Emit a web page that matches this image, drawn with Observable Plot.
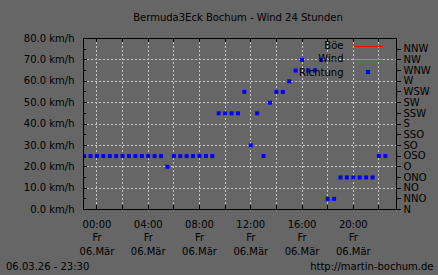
<!DOCTYPE html>
<html><head><meta charset="utf-8">
<script src="https://cdn.jsdelivr.net/npm/d3@7"></script>
<script src="https://cdn.jsdelivr.net/npm/@observablehq/plot@0.6"></script>
<style>
body{margin:0;background:#666666;}
#wrap{position:relative;width:438px;height:275px;background:#666666;font-family:"DejaVu Sans";font-size:10px;color:#000;overflow:hidden}
.t{position:absolute;white-space:nowrap;line-height:1}
#wrap svg{position:absolute;left:0;top:0}
</style></head><body><div id="wrap"></div>
<script>
const titleText = "Bermuda3Eck Bochum - Wind 24 Stunden";
const stampText = "06.03.26 - 23:30";
const urlText = "http://martin-bochum.de";
const compass = ["N","NNO","NO","ONO","O","OSO","SO","SSO","S","SSW","SW","WSW","W","WNW","NW","NNW"];
const yTicks = [0,10,20,30,40,50,60,70,80];
const yMinor = [5,15,25,35,45,55,65,75];
const xTickHours = [0,4,8,12,16,20];
const xGridHours = [0,2,4,6,8,10,12,14,16,18,20,22];
const dayLabel = ["Fr","06.Mär"];
const legendLabels = ["Böe","Wind","Richtung"];
const legendColors = ["#ff0000","#22dd22","#0000ff"];
// hours relative to 06.03.26 00:00
const dirHours = [-1,-0.5,0,0.5,1,1.5,2,2.5,3,3.5,4,4.5,5,5.5,6,6.5,7,7.5,8,8.5,9,9.5,10,10.5,11,11.5,12,12.5,13,13.5,14,14.5,15,15.5,16,16.5,17,17.5,18,18.5,19,19.5,20,20.5,21,21.5,22,22.5];
const dirNames = ["OSO","OSO","OSO","OSO","OSO","OSO","OSO","OSO","OSO","OSO","OSO","OSO","OSO","O","OSO","OSO","OSO","OSO","OSO","OSO","OSO","SSW","SSW","SSW","SSW","WSW","SO","SSW","OSO","SW","WSW","WSW","W","WNW","NW","WNW","WNW","NW","NNO","NNO","ONO","ONO","ONO","ONO","ONO","ONO","OSO","OSO"];

const data = dirHours.map((h,i)=>({h, v: compass.indexOf(dirNames[i])*5}));
const dirVals = compass.map((c,i)=>i*5);
const pad = n => String(n).padStart(2,"0");
const W = 438, H = 275, mL = 83, mR = 42, mT = 38, mB = 66;
const pw = W-mL-mR, ph = H-mT-mB;

const chart = Plot.plot({
  width: W, height: H,
  marginLeft: mL, marginRight: mR, marginTop: mT, marginBottom: mB,
  style: {background:"#666666", fontFamily:"DejaVu Sans", fontSize:"10px", color:"#000", overflow:"visible"},
  x: {domain: [-1.05, 23.37], label: null},
  y: {domain: [0, 80], label: null},
  marks: [
    Plot.gridX(xGridHours, {stroke:"#c8c8c8", strokeOpacity:1, strokeDasharray:"2,2", shapeRendering:"crispEdges"}),
    Plot.gridY(yTicks.filter(d=>d>0&&d<80), {stroke:"#c8c8c8", strokeOpacity:1, strokeDasharray:"2,2", shapeRendering:"crispEdges"}),
    Plot.dot(data, {x:"h", y:"v", symbol:"square", r:2.26, fill:"#0000ff", stroke:null, clip:true}),
    Plot.frame({stroke:"#000", shapeRendering:"crispEdges"}),
    Plot.tickY(yTicks, {stroke:"#000", insetRight: pw-4, shapeRendering:"crispEdges"}),
    Plot.tickY(yMinor, {stroke:"#000", insetRight: pw-3, shapeRendering:"crispEdges"}),
    Plot.tickX(xGridHours, {stroke:"#000", insetBottom: ph-4, shapeRendering:"crispEdges"}),
    Plot.tickX(xGridHours, {stroke:"#000", insetTop: ph-4, shapeRendering:"crispEdges"}),
    Plot.axisY(yTicks, {anchor:"left", tickSize:0, tickPadding:9, tickFormat: d=>d.toFixed(1)+" km/h", label:null, fill:"#000"}),
    Plot.axisY(dirVals, {anchor:"right", tickSize:4, tickPadding:3, tickFormat: d=>compass[d/5], label:null, fill:"#000", stroke:"#000", shapeRendering:"crispEdges"}),
    Plot.axisX(xTickHours, {anchor:"bottom", tickSize:0, tickPadding:9, lineHeight:1.33, tickFormat: h=>pad(h)+":00\n"+dayLabel.join("\n"), label:null, fill:"#000"})
  ]
});
const wrap = document.getElementById("wrap");
wrap.appendChild(chart);

function addText(txt, css){
  const d = document.createElement("div");
  d.className = "t";
  d.textContent = txt;
  Object.assign(d.style, css);
  wrap.appendChild(d);
  return d;
}
addText(titleText, {top:"13.2px", left:"0px", width:"476px", textAlign:"center"});
addText(stampText, {top:"262px", left:"6px"});
addText(urlText, {top:"261.8px", right:"4.5px"});
legendLabels.forEach((lab,i)=>{
  addText(lab, {top:(40.9+13.3*i)+"px", right:(438-343.5)+"px"});
  if (i < 2) {
    const l = document.createElement("div");
    Object.assign(l.style, {position:"absolute", left:"354px", width:"29px", height:"1px", top:(45.5+13.3*i)+"px", background:legendColors[i]});
    wrap.appendChild(l);
  } else {
    const p = document.createElement("div");
    Object.assign(p.style, {position:"absolute", left:"366.3px", width:"4px", height:"4px", top:(70.3)+"px", background:legendColors[i]});
    wrap.appendChild(p);
  }
});
</script>
</body></html>
